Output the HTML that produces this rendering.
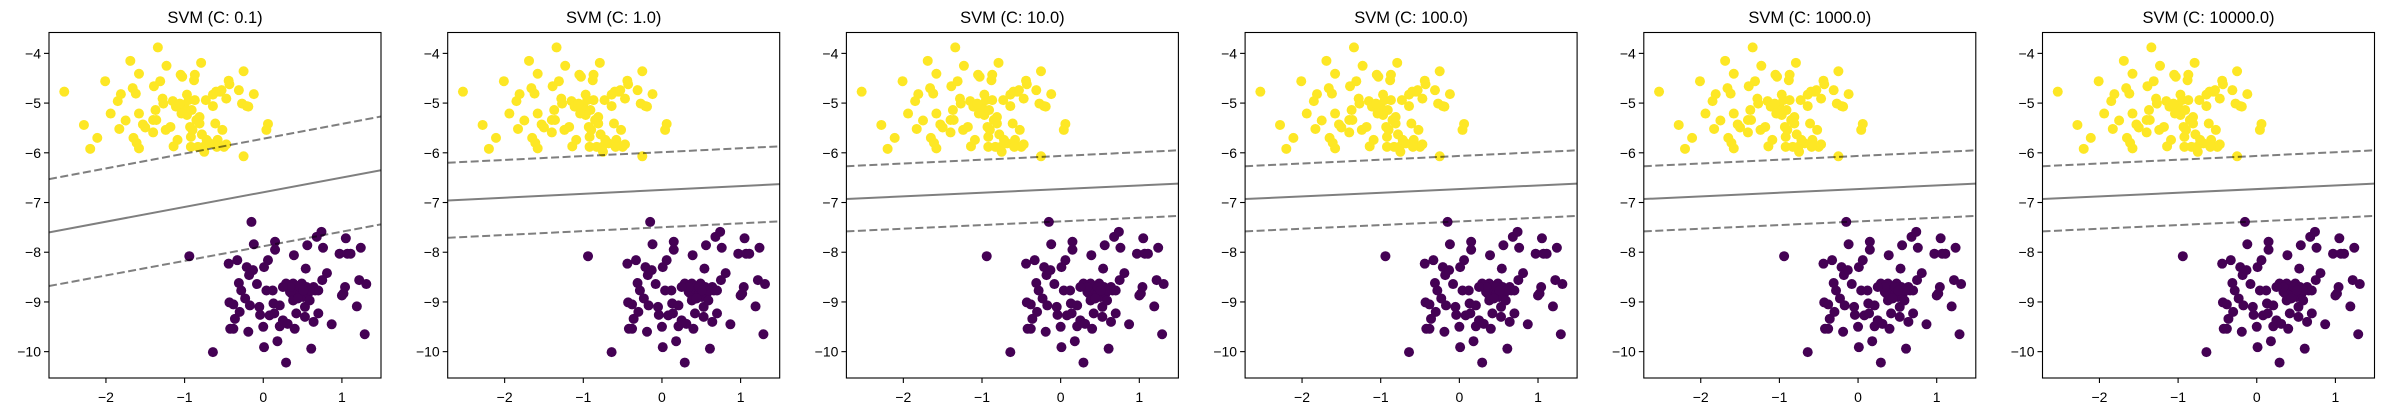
<!DOCTYPE html>
<html><head><meta charset="utf-8"><style>
html,body{margin:0;padding:0;background:#fff;}
svg{display:block;font-family:"Liberation Sans","DejaVu Sans",sans-serif;}
</style></head><body>
<svg id="fig" width="2383" height="412" viewBox="0 0 2383 412" xmlns="http://www.w3.org/2000/svg"></svg>
<script>
const panelTitles = ["SVM (C: 0.1)","SVM (C: 1.0)","SVM (C: 10.0)","SVM (C: 100.0)","SVM (C: 1000.0)","SVM (C: 10000.0)"];
const xTicks = [-2,-1,0,1];
const yTicks = [-4,-5,-6,-7,-8,-9,-10];
const xTickLabels = ["\u22122","\u22121","0","1"];
const yTickLabels = ["\u22124","\u22125","\u22126","\u22127","\u22128","\u22129","\u221210"];
// decision boundary values at x-min and x-max for each panel
const solidLeft  = [-7.60,-6.96,-6.93,-6.93,-6.93,-6.93];
const solidRight = [-6.35,-6.63,-6.62,-6.62,-6.62,-6.62];
const upperLeft  = [-6.53,-6.20,-6.27,-6.27,-6.27,-6.27];
const upperRight = [-5.27,-5.87,-5.95,-5.95,-5.95,-5.95];
const lowerLeft  = [-8.68,-7.71,-7.58,-7.58,-7.58,-7.58];
const lowerRight = [-7.44,-7.38,-7.27,-7.27,-7.27,-7.27];
const yellowX = [-2.53,-2.28,-2.20,-2.11,-2.01,-1.94,-1.85,-1.83,-1.81,-1.75,-1.69,-1.66,-1.65,-1.62,-1.58,-1.58,-1.61,-1.58,-1.53,-1.50,-1.40,-1.39,-1.40,-1.37,-1.36,-1.34,-1.31,-1.28,-1.27,-1.24,-1.23,-1.18,-1.15,-1.14,-1.11,-1.09,-1.05,-1.03,-1.02,-1.00,-0.97,-0.97,-0.95,-0.93,-0.92,-0.92,-0.90,-0.88,-0.87,-0.87,-0.85,-0.81,-0.81,-0.79,-0.78,-0.76,-0.75,-0.73,-0.68,-0.64,-0.64,-0.61,-0.60,-0.58,-0.55,-0.53,-0.52,-0.50,-0.47,-0.47,-0.44,-0.43,-0.31,-0.27,-0.25,-0.21,-0.19,-0.12,-0.25,0.06,0.04,-1.04,-1.06,-0.91,-0.83,-0.72,-0.59];
const yellowY = [-4.77,-5.44,-5.92,-5.70,-4.56,-5.21,-4.96,-5.52,-4.82,-5.35,-4.15,-4.70,-5.70,-4.81,-4.41,-5.21,-5.80,-5.91,-5.43,-5.49,-5.59,-4.66,-5.34,-5.14,-5.34,-3.88,-4.56,-4.91,-5.01,-5.54,-4.25,-5.48,-4.96,-5.87,-5.07,-5.74,-4.43,-4.47,-5.14,-5.07,-4.83,-5.24,-4.94,-5.48,-5.68,-5.88,-5.54,-4.54,-4.43,-4.94,-5.34,-5.41,-5.28,-4.19,-5.63,-5.88,-5.98,-4.94,-5.81,-5.06,-4.83,-5.41,-4.77,-5.74,-4.77,-4.74,-5.54,-5.88,-4.91,-5.83,-4.55,-4.62,-4.74,-5.01,-4.36,-5.06,-5.07,-4.82,-6.07,-5.42,-5.54,-5.21,-5.01,-5.14,-5.88,-5.74,-5.88];
const purpleX = [-0.94,-0.64,-0.44,-0.43,-0.42,-0.38,-0.38,-0.36,-0.33,-0.31,-0.30,-0.28,-0.23,-0.21,-0.19,-0.18,-0.17,-0.15,-0.13,-0.12,-0.08,-0.05,-0.04,0.00,0.01,0.01,0.04,0.06,0.08,0.12,0.13,0.15,0.15,0.14,0.18,0.21,0.21,0.25,0.29,0.29,0.31,0.34,0.36,0.38,0.39,0.40,0.42,0.42,0.44,0.47,0.49,0.51,0.53,0.53,0.54,0.55,0.56,0.57,0.59,0.61,0.64,0.64,0.66,0.68,0.70,0.70,0.74,0.76,0.75,0.81,0.87,0.97,1.00,1.02,1.04,1.05,1.07,1.11,1.19,1.22,1.24,1.29,1.31,0.38,0.47,0.59,0.51,0.44,0.34,0.25];
const purpleY = [-8.08,-10.01,-8.23,-9.01,-9.54,-9.54,-9.05,-9.34,-8.16,-8.62,-9.20,-8.77,-8.93,-8.30,-9.60,-8.46,-9.07,-7.39,-8.36,-7.84,-8.64,-9.10,-9.26,-9.50,-9.91,-8.30,-8.77,-8.16,-9.27,-8.77,-9.03,-7.79,-7.95,-9.23,-9.79,-9.49,-9.07,-9.37,-10.22,-8.63,-9.44,-8.80,-8.83,-8.97,-8.06,-9.54,-9.23,-8.70,-8.77,-8.83,-8.63,-8.90,-9.10,-9.30,-8.33,-8.70,-7.86,-8.83,-8.97,-9.94,-8.70,-9.40,-8.77,-7.69,-9.23,-8.77,-7.59,-7.91,-8.56,-8.42,-9.45,-8.03,-8.87,-8.83,-8.70,-7.72,-8.03,-8.03,-9.09,-8.56,-7.91,-9.65,-8.64,-8.63,-8.70,-8.77,-8.77,-8.93,-8.70,-8.70];

const NS="http://www.w3.org/2000/svg";
const svg=document.getElementById('fig');
const XMIN=-2.724, XMAX=1.497, YTOP=-3.58, YBOT=-10.53;
const AX_TOP=32.5, AX_H=345.5, AX_W=332, STEP=398.7, LEFT0=49;
function mk(tag,attrs,parent){const e=document.createElementNS(NS,tag);for(const k in attrs)e.setAttribute(k,attrs[k]);parent.appendChild(e);return e;}

panelTitles.forEach((title,i)=>{
  const L=LEFT0+i*STEP;
  const sx=v=>L+(v-XMIN)/(XMAX-XMIN)*AX_W;
  const sy=v=>AX_TOP+(v-YTOP)/(YBOT-YTOP)*AX_H;
  const g=mk('g',{},svg);
  
  
  const clipId='clip'+i;
  const cp=mk('clipPath',{id:clipId},g);
  mk('rect',{x:L,y:AX_TOP,width:AX_W,height:AX_H},cp);
  const plot=mk('g',{'clip-path':'url(#'+clipId+')'},g);
  
  
  yellowX.forEach((x,j)=>{
    const c=mk('circle',{cx:sx(x),cy:sy(yellowY[j]),r:5,fill:'#fde725'},plot);
    
    
  });
  purpleX.forEach((x,j)=>{
    const c=mk('circle',{cx:sx(x),cy:sy(purpleY[j]),r:5,fill:'#440154'},plot);
    
    
  });
  const lines=[[upperLeft[i],upperRight[i],'8,3.5','upper-margin'],[solidLeft[i],solidRight[i],'','decision-boundary'],[lowerLeft[i],lowerRight[i],'8,3.5','lower-margin']];
  lines.forEach(([a,b,d,n])=>{
    const ln=mk('line',{x1:sx(XMIN),y1:sy(a),x2:sx(XMAX),y2:sy(b),stroke:'#000','stroke-opacity':0.5,'stroke-width':2},plot);
    if(d) ln.setAttribute('stroke-dasharray',d);
    
    
  });
  const fr=mk('rect',{x:L,y:AX_TOP,width:AX_W,height:AX_H,fill:'none',stroke:'#000','stroke-width':1.1},g);
  
  
  xTicks.forEach((t,j)=>{
    const x=sx(t);
    mk('line',{x1:x,y1:AX_TOP+AX_H,x2:x,y2:AX_TOP+AX_H+5,stroke:'#000','stroke-width':1.1},g);
    const tx=mk('text',{x:x,y:402,'text-anchor':'middle','font-size':14,fill:'#000'},g);
    tx.textContent=xTickLabels[j];
    
    
  });
  yTicks.forEach((t,j)=>{
    const y=sy(t);
    mk('line',{x1:L-5,y1:y,x2:L,y2:y,stroke:'#000','stroke-width':1.1},g);
    const tx=mk('text',{x:L-8,y:y+5,'text-anchor':'end','font-size':14,fill:'#000'},g);
    tx.textContent=yTickLabels[j];
    
    
  });
  const tt=mk('text',{x:L+AX_W/2,y:23,'text-anchor':'middle','font-size':16.5,fill:'#000'},g);
  tt.textContent=title;
  
  
});
</script>
</body></html>
